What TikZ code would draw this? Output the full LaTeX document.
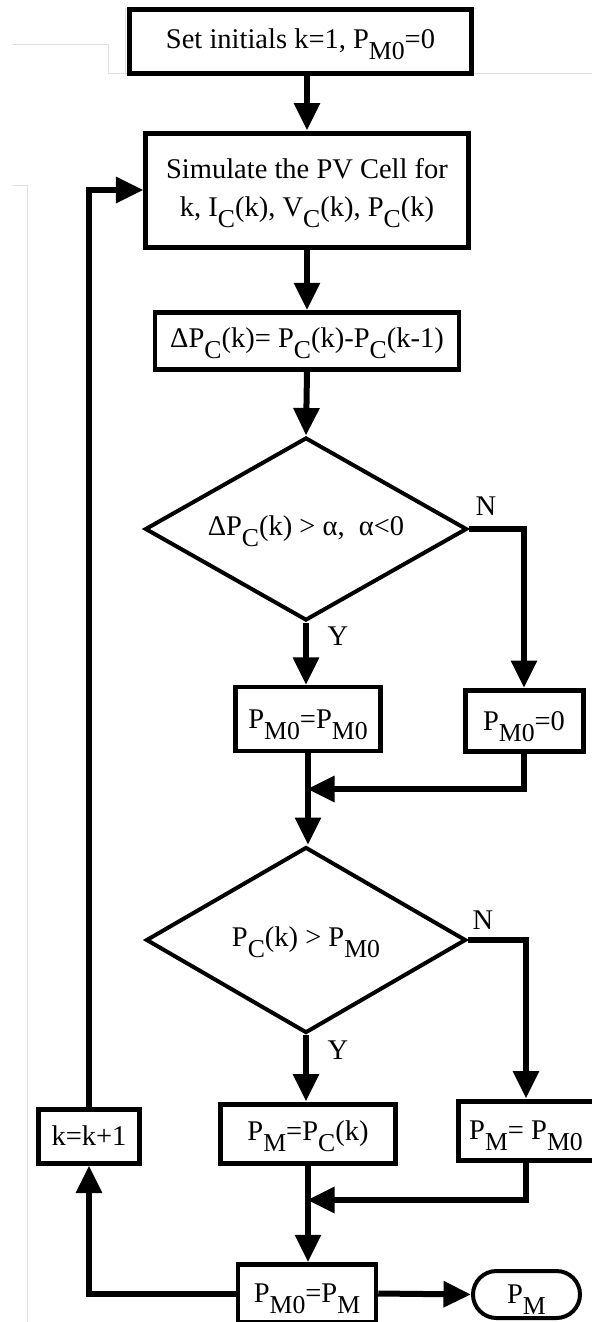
\documentclass[tikz,border=0pt]{standalone}
\usepackage{fontspec}
\setmainfont{Liberation Serif}
\usetikzlibrary{arrows.meta,shapes.geometric}
% low, nearly full size subscripts as in the drawing
\newcommand{\lo}[1]{\raisebox{-4.4pt}[0pt][0pt]{\fontsize{10.3}{12}\selectfont #1}}

\begin{document}
\begin{tikzpicture}[x=0.4pt,y=-0.4pt,>={Triangle[width=10pt,length=11pt]},
  font=\fontsize{11.4}{15.2}\selectfont,
  box/.style={draw,line width=2pt,inner sep=0pt,align=center},
  test/.style={draw,diamond,line width=1.6pt,inner sep=0pt,aspect=1.76},
  flow/.style={line width=2.4pt},
  ghost/.style={draw=black!12,line width=0.4pt}]
  \useasboundingbox (0,0) rectangle (592,1322);
  % faint scan edges
  \draw[ghost] (13,44) -- (108,44) -- (108,73) -- (130,73);
  \draw[ghost] (125,73) -- (125,8) -- (476,8);
  \draw[ghost] (471,73) -- (592,73);
  \draw[ghost] (13,185) -- (27,185) -- (27,1322);
  % Main column
  \node[box,minimum width=136.4pt,minimum height=25.6pt] (init) at (300.5,41) {Set initials k=1, P\lo{M0}=0};
  \node[box,minimum width=128.8pt,minimum height=45.6pt] (sim) at (307,190) {Simulate the PV Cell for\\k, I\lo{C}(k), V\lo{C}(k), P\lo{C}(k)};
  \node[box,line width=1.8pt,minimum width=121.6pt,minimum height=22.8pt] (dP) at (307,341) {ΔP\lo{C}(k)= P\lo{C}(k)-P\lo{C}(k-1)};
  \node[test,minimum width=128.8pt,minimum height=73.2pt] (dec1) at (306,529) {ΔP\lo{C}(k) > α,\ \ α<0};
  \node[box,line width=1.7pt,minimum width=58pt,minimum height=25.6pt] (keep) at (308,719) {P\lo{M0}=P\lo{M0}};
  \node[box,minimum width=47.2pt,minimum height=24.4pt] (reset) at (524,721) {P\lo{M0}=0};
  \node[test,minimum width=128pt,minimum height=74.4pt] (dec2) at (306,940) {P\lo{C}(k) > P\lo{M0}};
  \node[box,minimum width=69.6pt,minimum height=23.6pt] (take) at (308,1133.5) {P\lo{M}=P\lo{C}(k)};
  \node[box,minimum width=54.4pt,minimum height=23.6pt] (hold) at (526,1130.5) {P\lo{M}= P\lo{M0}};
  \node[box,line width=1.8pt,minimum width=55.2pt,minimum height=23.2pt] (upd) at (307,1293.5) {P\lo{M0}=P\lo{M}};
  \node[draw,line width=1.6pt,rounded corners=9.4pt,minimum width=42.8pt,minimum height=18.8pt,inner sep=0pt] (out) at (526.5,1294.5) {P\lo{M}};
  \node[box,minimum width=40pt,minimum height=21.6pt] (inc) at (89,1136) {k=k+1};
  % Branch labels
  \node[inner sep=0pt] (n1) at (486,506) {N};
  \node[inner sep=0pt] (y1) at (338,636) {Y};
  \node[inner sep=0pt] (n2) at (483,920) {N};
  \node[inner sep=0pt] (y2) at (338,1050) {Y};
  % Join points
  \coordinate (m1) at (307,789);
  \coordinate (m2) at (307,1200);
  % Arrows
  \draw[flow,->] (init.south -| sim.north) -- (sim.north);
  \draw[flow,->] (sim.south) -- (dP.north);
  \draw[flow,->] (dP.south) -- (dec1.north);
  \draw[flow,->] (dec1.south) -- (dec1.south |- keep.north);
  \draw[flow,->] (dec1.east) -| (reset.north);
  \draw[flow,->] (keep.south) -- (keep.south |- dec2.north);
  \draw[flow,->] (reset.south) |- (m1);
  \draw[flow,->] (dec2.south) -- (dec2.south |- take.north);
  \draw[flow,->] (dec2.east) -| (hold.north);
  \draw[flow,->] (take.south) -- (take.south |- upd.north);
  \draw[flow,->] (hold.south) |- (m2);
  \draw[flow,->] (upd.east) -- (out.west);
  \draw[flow,->] (upd.west) -| (inc.south);
  \draw[flow,->] (inc.north) |- (sim.west);
\end{tikzpicture}
\end{document}
